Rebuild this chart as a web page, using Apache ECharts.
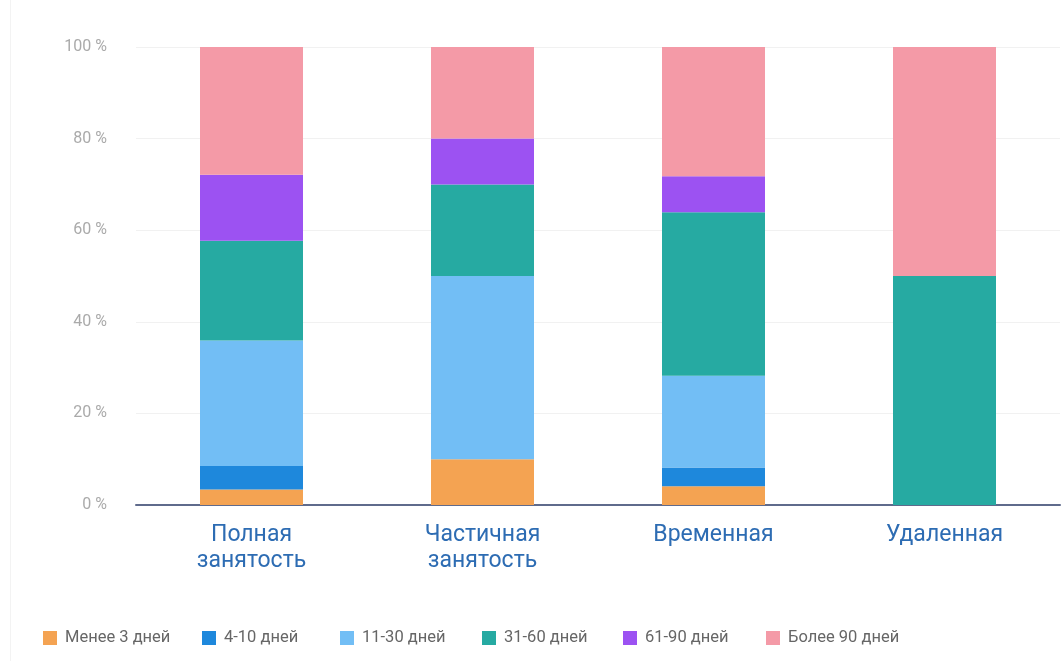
<!DOCTYPE html>
<html>
<head>
<meta charset="utf-8">
<script src="https://cdn.jsdelivr.net/npm/echarts@6/dist/echarts.min.js"></script>
<style>
html,body{margin:0;padding:0;background:#fff;}
#main{width:1062px;height:661px;}
</style>
</head>
<body>
<div id="main"></div>
<script>
const categories = ['Полная\nзанятость', 'Частичная\nзанятость', 'Временная', 'Удаленная'];
const seriesNames = ['Менее 3 дней', '4-10 дней', '11-30 дней', '31-60 дней', '61-90 дней', 'Более 90 дней'];
const lessThan3 = [3.4, 10, 4.1, 0];
const d4to10 = [5.1, 0, 4.1, 0];
const d11to30 = [27.4, 40, 20, 0];
const d31to60 = [21.8, 20, 35.7, 50];
const d61to90 = [14.4, 10, 7.9, 0];
const moreThan90 = [27.9, 20, 28.2, 50];
const yTicks = [0, 20, 40, 60, 80, 100];
const colors = ['#F4A352', '#1E88DC', '#72BEF5', '#26AAA2', '#9C52F2', '#F49AA7'];

const values = [lessThan3, d4to10, d11to30, d31to60, d61to90, moreThan90];
const legendLeft = [43, 202, 340, 482, 623, 766];
const chart = echarts.init(document.getElementById('main'));
chart.setOption({
  animation: false,
  color: colors,
  grid: { left: 136, right: 2, top: 47, bottom: 156 },
  graphic: [{
    type: 'line', shape: { x1: 10.5, y1: 0, x2: 10.5, y2: 661 },
    style: { stroke: '#f3f3f3', lineWidth: 1 }, silent: true
  }],
  legend: seriesNames.map((n, i) => ({
    left: legendLeft[i], top: 629.5, padding: 0,
    itemWidth: 14, itemHeight: 14,
    icon: 'rect',
    textStyle: { color: '#666', fontSize: 16.5, fontFamily: 'Roboto', padding: [0, 0, 0, 3] },
    data: [n]
  })),
  xAxis: {
    type: 'category',
    data: categories,
    axisLine: { lineStyle: { color: '#5f6b8c', width: 2 } },
    axisTick: { show: false },
    axisLabel: { color: '#2d6cb3', fontSize: 23, lineHeight: 26, margin: 17, fontFamily: 'Roboto' }
  },
  yAxis: {
    type: 'value', min: 0, max: 100, interval: 20,
    axisLine: { show: false }, axisTick: { show: false },
    splitLine: { lineStyle: { color: '#f1f1f1', width: 1 } },
    axisLabel: { color: '#aaa', fontSize: 16, margin: 29, fontFamily: 'Roboto',
      formatter: v => yTicks.includes(v) ? v + ' %' : '' }
  },
  series: seriesNames.map((n, i) => ({
    name: n, type: 'bar', stack: 'total', barWidth: 103,
    data: values[i]
  }))
});
</script>
</body>
</html>
